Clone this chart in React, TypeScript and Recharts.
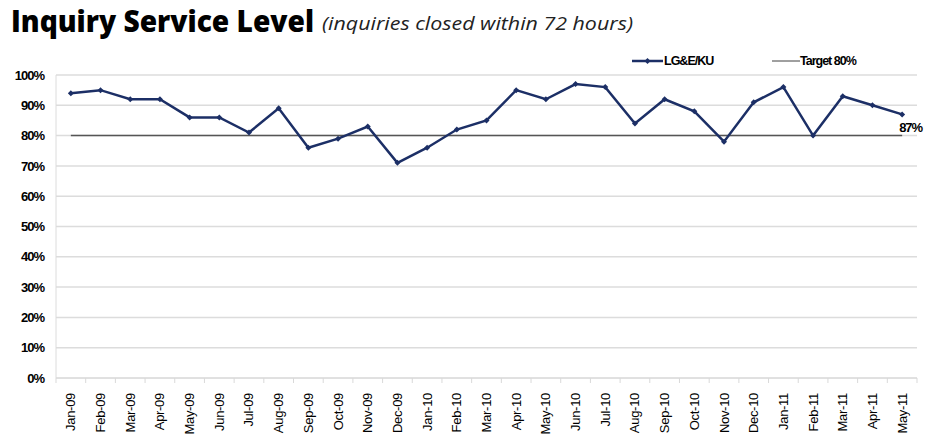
import React from 'react';
import {
  LineChart, Line, XAxis, YAxis, CartesianGrid, LabelList,
} from 'recharts';

const months = [
  'Jan-09', 'Feb-09', 'Mar-09', 'Apr-09', 'May-09', 'Jun-09', 'Jul-09', 'Aug-09', 'Sep-09', 'Oct-09',
  'Nov-09', 'Dec-09', 'Jan-10', 'Feb-10', 'Mar-10', 'Apr-10', 'May-10', 'Jun-10', 'Jul-10', 'Aug-10',
  'Sep-10', 'Oct-10', 'Nov-10', 'Dec-10', 'Jan-11', 'Feb-11', 'Mar-11', 'Apr-11', 'May-11',
];
const serviceLevel = [
  94, 95, 92, 92, 86, 86, 81, 89, 76, 79,
  83, 71, 76, 82, 85, 95, 92, 97, 96, 84,
  92, 88, 78, 91, 96, 80, 93, 90, 87,
];
const targetLevel = 80;
const yTicks = [0, 10, 20, 30, 40, 50, 60, 70, 80, 90, 100];

const NAVY = '#1c2f66';
const W = 926;
const H = 437;
const margin = { top: 75, right: 9, bottom: 0, left: 0 };
const Y_W = 56;
const X_H = 59;
const bandHalf = (W - margin.right - margin.left - Y_W) / months.length / 2;

const data = months.map((m, i) => ({
  month: m,
  value: serviceLevel[i],
  target: targetLevel,
}));

const XTick = (props: any) => {
  const { x, y, payload, index } = props;
  const ax = y - 8;
  return (
    <g>
      <line x1={x - bandHalf} y1={ax} x2={x - bandHalf} y2={ax + 5} stroke="#d9d9d9" />
      {index === months.length - 1 && (
        <line x1={x + bandHalf} y1={ax} x2={x + bandHalf} y2={ax + 5} stroke="#d9d9d9" />
      )}
      <text
        x={0}
        y={0}
        transform={`translate(${x + 4.5},${ax + 15}) rotate(-90)`}
        textAnchor="end"
        fontFamily="Liberation Sans, Arial, sans-serif"
        fontSize={13}
        letterSpacing={-0.3}
        fill="#000"
      >
        {payload.value}
      </text>
    </g>
  );
};

const Diamond = (props: any) => {
  const { cx, cy } = props;
  if (cx == null || cy == null) return null;
  return <path d={`M${cx},${cy - 3} L${cx + 3},${cy} L${cx},${cy + 3} L${cx - 3},${cy} Z`} fill={NAVY} />;
};

const LastLabel = (props: any) => {
  const { x, y, index, value } = props;
  if (index !== serviceLevel.length - 1) return null;
  return (
    <text
      x={x - 3}
      y={y + 18}
      fontFamily="Liberation Sans, Arial, sans-serif"
      fontWeight="bold"
      fontSize={13}
      letterSpacing={-1}
      fill="#000"
    >
      {value}%
    </text>
  );
};

const LegendBox = () => (
  <svg width={260} height={20} style={{ position: 'absolute', left: 630, top: 52 }}>
    <line x1={2} y1={9} x2={33} y2={9} stroke={NAVY} strokeWidth={2.5} />
    <path d="M17.5,6 L20.5,9 L17.5,12 L14.5,9 Z" fill={NAVY} />
    <text x={34} y={13} fontFamily="Liberation Sans, Arial, sans-serif" fontWeight="bold"
      fontSize={12.5} letterSpacing={-1} fill="#000">LG&amp;E/KU</text>
    <line x1={142} y1={9} x2={170} y2={9} stroke="#404040" strokeWidth={1} />
    <text x={170} y={13} fontFamily="Liberation Sans, Arial, sans-serif" fontWeight="bold"
      fontSize={12.5} letterSpacing={-1} fill="#000">Target 80%</text>
  </svg>
);

const App = () => {
  return (
    <div style={{ position: 'absolute', left: 0, top: 0, width: W, height: H, background: '#fff' }}>
      <svg width={W} height={44} style={{ position: 'absolute', left: 0, top: 0 }}>
        <text x={11} y={32} fontFamily="Open Sans, sans-serif" fontWeight={800} fontSize={30}
          textLength={303} lengthAdjust="spacingAndGlyphs" fill="#000">Inquiry Service Level</text>
        <text x={322} y={30} fontFamily="Open Sans, sans-serif" fontStyle="italic" fontSize={19}
          textLength={311} lengthAdjust="spacingAndGlyphs" fill="#222">(inquiries closed within 72 hours)</text>
      </svg>
      <LegendBox />
      <div style={{ position: 'absolute', left: 0, top: 0 }}>
        <LineChart width={W} height={H} data={data} margin={margin}>
          <CartesianGrid vertical={false} stroke="#dcdcdc" strokeWidth={1.5} />
          <XAxis
            dataKey="month"
            interval={0}
            padding={{ left: bandHalf, right: bandHalf }}
            tick={<XTick />}
            tickLine={false}
            axisLine={{ stroke: '#dcdcdc' }}
            height={X_H}
          />
          <YAxis
            domain={[0, 100]}
            ticks={yTicks}
            tickFormatter={(v: number) => `${v}%`}
            width={Y_W}
            tickSize={0}
            tickMargin={12}
            axisLine={{ stroke: '#dcdcdc' }}
            tick={{ fontFamily: 'Liberation Sans, Arial, sans-serif', fontWeight: 'bold', fontSize: 13, fill: '#000', letterSpacing: -1 }}
          />
          <Line
            dataKey="target"
            stroke="#555"
            strokeWidth={1.5}
            dot={false}
            isAnimationActive={false}
          />
          <Line
            dataKey="value"
            stroke={NAVY}
            strokeWidth={2.5}
            dot={<Diamond />}
            isAnimationActive={false}
          >
            <LabelList dataKey="value" content={<LastLabel />} />
          </Line>
        </LineChart>
      </div>
    </div>
  );
};

export default App;
